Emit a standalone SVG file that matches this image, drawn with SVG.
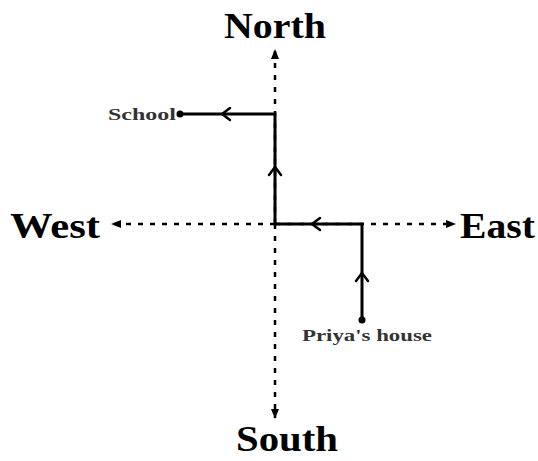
<svg xmlns="http://www.w3.org/2000/svg" width="538" height="461" viewBox="0 0 538 461">
<style>
.big{font-family:"Liberation Serif",serif;font-weight:bold;font-size:36px;fill:#000}
.small{font-family:"Liberation Serif",serif;font-weight:bold;font-size:16px;fill:#333}
.axis{stroke:#000;stroke-width:2.5;stroke-dasharray:5,7;fill:none}
.path{stroke:#000;stroke-width:3;fill:none}
.chev{stroke:#000;stroke-width:2.5;fill:none;stroke-linecap:round;stroke-linejoin:round}
</style>
<defs>
<marker id="ah" viewBox="0 0 10 10" refX="9" refY="5" markerWidth="4" markerHeight="4" orient="auto"><path d="M0,1 L10,5 L0,9 Z" fill="#000"/></marker>
</defs>
<rect width="538" height="461" fill="#fff"/>
<g id="connectors">
<line class="axis" x1="275" y1="224" x2="275" y2="50" marker-end="url(#ah)"/>
<line class="axis" x1="275" y1="224" x2="275" y2="418" marker-end="url(#ah)"/>
<line class="axis" x1="275" y1="224" x2="112" y2="224" marker-end="url(#ah)"/>
<line class="axis" x1="275" y1="224" x2="455" y2="224" marker-end="url(#ah)"/>
<polyline class="path" points="362,320 362,224 275,224 275,114 180,114"/>
<polyline class="chev" points="356,281 362,273 368,281"/>
<polyline class="chev" points="320,218 312,224 320,230"/>
<polyline class="chev" points="269,175 275,167 281,175"/>
<polyline class="chev" points="230,108 222,114 230,120"/>
</g>
<g id="school"><circle cx="180" cy="114" r="3.5" fill="#000"/><text class="small" x="108" y="120" textLength="68" lengthAdjust="spacingAndGlyphs">School</text></g>
<g id="priya"><circle cx="362" cy="320" r="3.5" fill="#000"/><text class="small" x="302" y="341" textLength="130" lengthAdjust="spacingAndGlyphs">Priya's house</text></g>
<g id="north"><text class="big" x="224" y="38" textLength="102" lengthAdjust="spacingAndGlyphs">North</text></g>
<g id="south"><text class="big" x="236" y="451" textLength="102" lengthAdjust="spacingAndGlyphs">South</text></g>
<g id="west"><text class="big" x="10" y="238" textLength="90" lengthAdjust="spacingAndGlyphs">West</text></g>
<g id="east"><text class="big" x="460" y="238" textLength="75" lengthAdjust="spacingAndGlyphs">East</text></g>
</svg>
